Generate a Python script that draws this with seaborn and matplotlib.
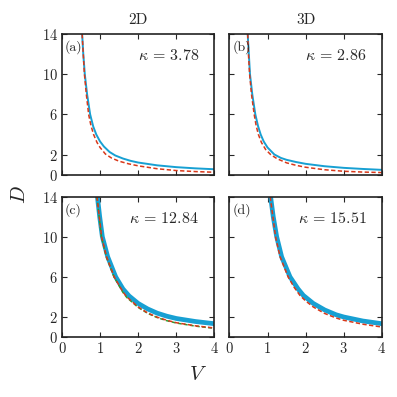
import numpy as np
import pandas as pd
import seaborn as sns
import matplotlib
matplotlib.use('Agg')
import matplotlib.pyplot as plt

# values, one (V, D) list per curve
V_a_sim = [0.53, 0.56, 0.60, 0.66, 0.74, 0.82, 0.90, 1.0, 1.1, 1.25, 1.4, 1.6, 1.8, 2.0, 2.5, 3.0, 3.5, 4.0]
D_a_sim = [14, 12, 10, 8, 6, 4.8, 4.0, 3.3, 2.8, 2.25, 1.9, 1.6, 1.37, 1.2, 0.92, 0.74, 0.62, 0.53]
V_a_fit = [0.53, 0.56, 0.59, 0.64, 0.70, 0.76, 0.83, 0.92, 1.0, 1.14, 1.3, 1.5, 1.75, 2.0, 2.5, 3.0, 3.5, 4.0]
D_a_fit = [14, 12, 10, 8, 6, 4.9, 4.0, 3.2, 2.7, 2.05, 1.65, 1.33, 1.07, 0.87, 0.58, 0.40, 0.30, 0.23]

V_b_sim = [0.48, 0.51, 0.54, 0.60, 0.68, 0.75, 0.82, 0.90, 1.0, 1.18, 1.35, 1.5, 1.75, 2.0, 2.5, 3.0, 3.5, 4.0]
D_b_sim = [14, 12, 10, 8, 6, 4.85, 4.0, 3.3, 2.7, 2.0, 1.66, 1.47, 1.25, 1.07, 0.83, 0.67, 0.56, 0.47]
V_b_fit = [0.48, 0.50, 0.53, 0.58, 0.65, 0.70, 0.76, 0.84, 0.95, 1.08, 1.25, 1.5, 1.75, 2.0, 2.5, 3.0, 3.5, 4.0]
D_b_fit = [14, 12, 10, 8, 6, 4.9, 4.0, 3.2, 2.5, 2.0, 1.58, 1.17, 0.92, 0.73, 0.48, 0.33, 0.25, 0.2]

V_c_sim = [0.93, 0.99, 1.06, 1.20, 1.41, 1.6, 1.76, 2.0, 2.25, 2.5, 2.75, 3.0, 3.5, 4.0]
D_c_sim = [14, 12, 10, 8, 6, 4.8, 4.1, 3.35, 2.8, 2.38, 2.08, 1.85, 1.55, 1.33]
V_c_fit = [0.92, 0.98, 1.04, 1.17, 1.37, 1.6, 1.7, 2.0, 2.25, 2.5, 2.75, 3.0, 3.5, 4.0]
D_c_fit = [14, 12, 10, 8, 6, 4.5, 4.0, 3.0, 2.4, 1.98, 1.67, 1.43, 1.12, 0.9]
V_c_alt = [0.915, 0.975, 1.035, 1.165, 1.365, 1.6, 1.7, 2.0, 2.25, 2.5, 2.75, 3.0, 3.5, 4.0]
D_c_alt = [14, 12, 10, 8, 6, 4.45, 3.95, 2.95, 2.36, 1.94, 1.63, 1.40, 1.09, 0.87]

V_d_sim = [1.08, 1.15, 1.24, 1.37, 1.59, 1.8, 1.94, 2.2, 2.5, 2.8, 3.0, 3.5, 4.0]
D_d_sim = [14, 12, 10, 8, 6, 4.8, 4.15, 3.35, 2.7, 2.22, 2.0, 1.6, 1.33]
V_d_fit = [1.07, 1.14, 1.21, 1.33, 1.54, 1.7, 1.85, 2.0, 2.2, 2.5, 2.8, 3.0, 3.5, 4.0]
D_d_fit = [14, 12, 10, 8, 6, 4.95, 4.15, 3.6, 3.0, 2.35, 1.9, 1.67, 1.28, 1.0]

panel_labels = ['(a)', '(b)', '(c)', '(d)']
kappas = ['3.78', '2.86', '12.84', '15.51']
column_titles = ['2D', '3D']

sns.set_style('ticks')
plt.rcParams['font.family'] = ['serif']
plt.rcParams['font.serif'] = ['cmr10', 'DejaVu Serif']
plt.rcParams['mathtext.fontset'] = 'cm'
plt.rcParams['axes.formatter.use_mathtext'] = True

blue = '#17a0d3'
red = '#d8381a'
green = '#2e9a2e'

fig, axes = plt.subplots(2, 2, figsize=(3.97, 3.97), dpi=100, sharex=True, sharey=True)
fig.subplots_adjust(left=0.156, right=0.962, top=0.914, bottom=0.151, wspace=0.098, hspace=0.157)

curves = [
    (V_a_sim, D_a_sim, V_a_fit, D_a_fit, None, None, 1.4),
    (V_b_sim, D_b_sim, V_b_fit, D_b_fit, None, None, 1.4),
    (V_c_sim, D_c_sim, V_c_fit, D_c_fit, V_c_alt, D_c_alt, 3.4),
    (V_d_sim, D_d_sim, V_d_fit, D_d_fit, None, None, 3.4),
]

for i, ax in enumerate(axes.flat):
    vs, ds, vf, df_, va, da, lw = curves[i]
    sns.lineplot(x=vs, y=ds, ax=ax, color=blue, lw=lw)
    if va is not None:
        sns.lineplot(x=va, y=da, ax=ax, color=green, lw=1.1, linestyle=(0, (2.5, 1.5)))
    sns.lineplot(x=vf, y=df_, ax=ax, color=red, lw=1.1, linestyle=(0, (2.8, 1.6)))
    ax.set_xlim(0, 4)
    ax.set_ylim(0, 14)
    ax.set_xticks([0, 1, 2, 3, 4])
    ax.set_yticks([0, 2, 6, 10, 14])
    ax.set_xlabel('')
    ax.set_ylabel('')
    ax.tick_params(direction='in', top=True, right=True, length=3.5, width=0.8, labelsize=10.5, pad=3)
    for sp in ax.spines.values():
        sp.set_linewidth(1.2)
        sp.set_color('#222222')
    ax.text(0.02, 0.955, panel_labels[i], transform=ax.transAxes, ha='left', va='top', fontsize=10)
    ax.text(0.90, 0.847, r'$\kappa\,=\,%s$' % kappas[i], transform=ax.transAxes,
            ha='right', va='center', fontsize=11.5)

for j in range(2):
    axes[0, j].set_title(column_titles[j], fontsize=11, pad=7)

fig.text(0.5, 0.055, '$V$', fontsize=15, ha='center', va='center')
fig.text(0.05, 0.509, '$D$', fontsize=15, ha='center', va='center', rotation=90)

fig.savefig('out.png', dpi=100)
